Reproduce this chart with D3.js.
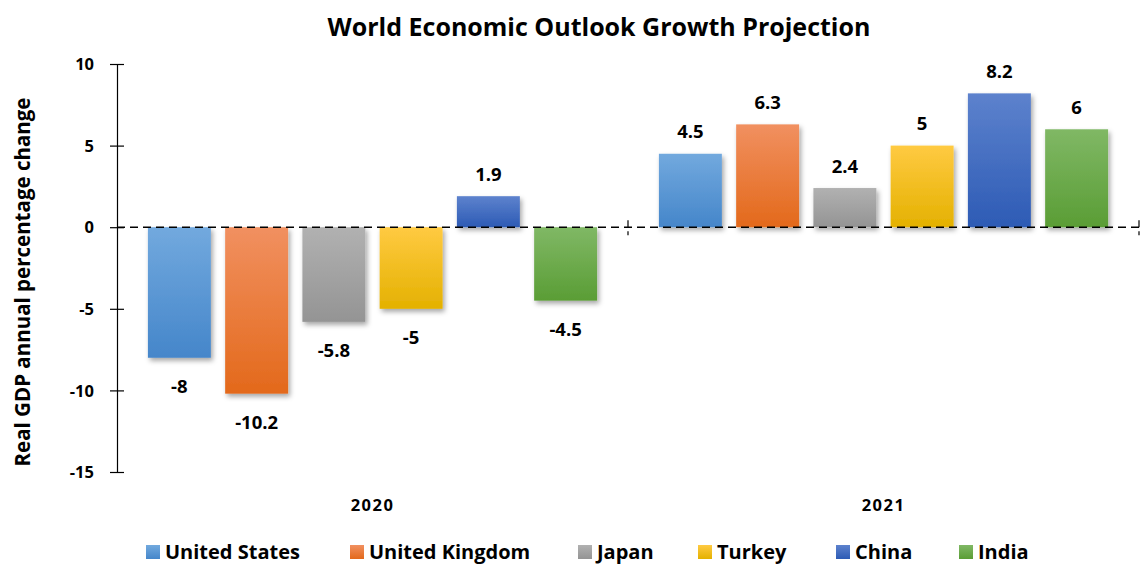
<!DOCTYPE html>
<html>
<head>
<meta charset="utf-8">
<script src="https://cdn.jsdelivr.net/npm/d3@7"></script>
<style>
  html, body { margin: 0; padding: 0; background: #fff; }
  svg { display: block; font-family: "Open Sans", Lato, sans-serif; font-weight: 700; }
</style>
</head>
<body>
<svg id="chart" width="1142" height="565"></svg>
<script>
// Real GDP growth, IMF World Economic Outlook projection
const years = ["2020", "2021"];
const countries = ["United States", "United Kingdom", "Japan", "Turkey", "China", "India"];
const values2020 = [-8, -10.2, -5.8, -5, 1.9, -4.5];
const values2021 = [4.5, 6.3, 2.4, 5, 8.2, 6];
const yTicks = [-15, -10, -5, 0, 5, 10];

// top / bottom gradient stops per country
const colorTop = ["#72a9de", "#f19060", "#b1b1b1", "#ffca42", "#5d82cd", "#80b865"];
const colorBottom = ["#4586ca", "#e3691b", "#949494", "#e4b100", "#2d5bb5", "#5a9d35"];

const seriesByYear = { "2020": values2020, "2021": values2021 };

const svg = d3.select("#chart");
const plot = { left: 117, right: 1139, top: 64, bottom: 472 };

const defs = svg.append("defs");
countries.forEach((c, i) => {
  const g = defs.append("linearGradient")
    .attr("id", "grad" + i).attr("x1", 0).attr("y1", 0).attr("x2", 0).attr("y2", 1);
  g.append("stop").attr("offset", "0%").attr("stop-color", colorTop[i]);
  g.append("stop").attr("offset", "100%").attr("stop-color", colorBottom[i]);
});
const shadow = defs.append("filter").attr("id", "shadow")
  .attr("x", "-20%").attr("y", "-20%").attr("width", "150%").attr("height", "150%");
shadow.append("feDropShadow").attr("dx", 2).attr("dy", 3).attr("stdDeviation", 2.5)
  .attr("flood-color", "#000").attr("flood-opacity", 0.35);

const y = d3.scaleLinear().domain([-15, 10]).range([plot.bottom, plot.top]);
const x0 = d3.scaleBand().domain(years).range([plot.left, plot.right]).padding(0);
const x1 = d3.scaleBand().domain(countries).range([0, x0.bandwidth()])
  .paddingInner(0.185).paddingOuter(0.4);

// Title
svg.append("text")
  .attr("x", 599).attr("y", 36)
  .attr("text-anchor", "middle")
  .attr("font-size", 25)
  .attr("fill", "#000")
  .text("World Economic Outlook Growth Projection");

// Y axis
const yAxis = d3.axisLeft(y).tickValues(yTicks).tickSize(0).tickPadding(0).tickFormat(d => String(d));
const yg = svg.append("g").attr("transform", `translate(${plot.left},0)`).call(yAxis);
yg.select(".domain").attr("stroke", "#000").attr("stroke-width", 1.2);
yg.selectAll(".tick line").remove();
yg.selectAll(".tick").append("line")
  .attr("x1", -7).attr("x2", 7).attr("stroke", "#000").attr("stroke-width", 1.2);
yg.selectAll(".tick text")
  .attr("x", -23).attr("dy", "0.35em")
  .attr("font-size", 16.5).attr("font-family", "'Open Sans', sans-serif").attr("font-weight", 700)
  .attr("fill", "#000");

// Y axis title
svg.append("text")
  .attr("transform", `translate(30,${(plot.top + plot.bottom) / 2 + 14}) rotate(-90)`)
  .attr("text-anchor", "middle")
  .attr("font-size", 20.5)
  .attr("fill", "#000")
  .text("Real GDP annual percentage change");

// Bars
const groups = svg.append("g").selectAll("g")
  .data(years).join("g")
  .attr("transform", d => `translate(${x0(d)},0)`);

const barData = yr => countries.map((c, i) => ({ year: yr, country: c, i, value: seriesByYear[yr][i] }));

groups.selectAll("rect")
  .data(d => barData(d)).join("rect")
  .attr("x", d => x1(d.country))
  .attr("width", x1.bandwidth())
  .attr("y", d => y(Math.max(0, d.value)))
  .attr("height", d => Math.abs(y(d.value) - y(0)))
  .attr("fill", d => `url(#grad${d.i})`)
  .attr("filter", "url(#shadow)");

// Value labels
groups.selectAll("text.val")
  .data(d => barData(d)).join("text")
  .attr("class", "val")
  .attr("x", d => x1(d.country) + x1.bandwidth() / 2)
  .attr("y", d => d.value >= 0 ? y(d.value) - 22 : y(d.value) + 29)
  .attr("dy", "0.35em")
  .attr("text-anchor", "middle")
  .attr("font-size", 18.5)
  .attr("fill", "#000")
  .text(d => d.value);

// Category axis along zero, dashed
const zeroY = y(0);
svg.append("line")
  .attr("x1", plot.left).attr("x2", plot.right)
  .attr("y1", zeroY).attr("y2", zeroY)
  .attr("stroke", "#000").attr("stroke-width", 1.6)
  .attr("stroke-dasharray", "8,5");
svg.append("g").selectAll("line")
  .data(years).join("line")
  .attr("x1", d => x0(d) + x0.bandwidth()).attr("x2", d => x0(d) + x0.bandwidth())
  .attr("y1", zeroY - 7).attr("y2", zeroY + 8)
  .attr("stroke", "#000").attr("stroke-width", 1.2)
  .attr("stroke-dasharray", "7,4");

// Year labels
svg.append("g").selectAll("text")
  .data(years).join("text")
  .attr("x", d => x0(d) + x0.bandwidth() / 2)
  .attr("y", 511)
  .attr("text-anchor", "middle")
  .attr("font-size", 16.5)
  .attr("letter-spacing", 1.5)
  .attr("fill", "#000")
  .text(d => d);

// Legend
const legendX = [146, 350, 578, 698, 836, 959];
const legend = svg.append("g").selectAll("g")
  .data(countries).join("g")
  .attr("transform", (d, i) => `translate(${legendX[i]},559)`);
legend.append("rect")
  .attr("x", 0).attr("y", -14).attr("width", 14).attr("height", 14)
  .attr("fill", (d, i) => `url(#grad${i})`);
legend.append("text")
  .attr("x", 19).attr("y", 0)
  .attr("font-size", 20)
  .attr("fill", "#000")
  .text(d => d);
</script>
</body>
</html>
